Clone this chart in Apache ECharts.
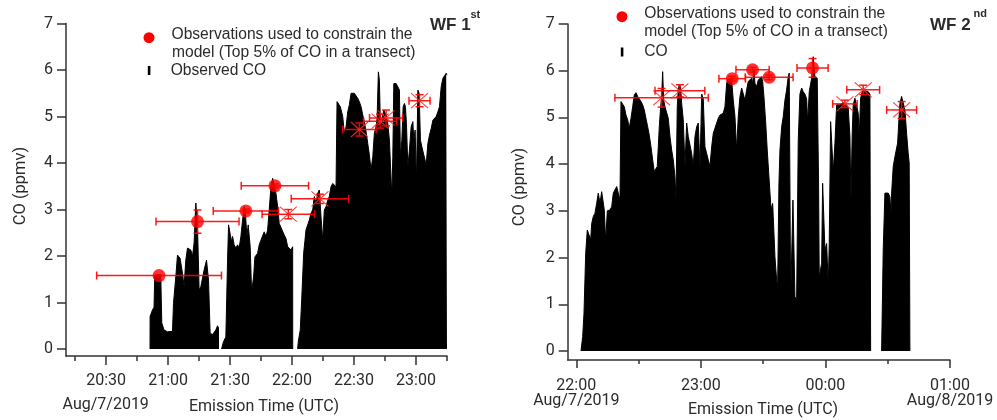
<!DOCTYPE html>
<html>
<head>
<meta charset="utf-8">
<script src="https://cdn.jsdelivr.net/npm/echarts@6/dist/echarts.min.js"></script>
<style>
html,body{margin:0;padding:0;background:#fff;}
#chart{width:997px;height:420px;}
</style>
</head>
<body>
<div id="chart"></div>
<script>
// ---- Time unit: minutes since 2019-08-07 00:00 UTC ----

// WF 1st: observed CO (time, ppmv); null = gap in data
const wf1Time = [
 1251.27,1251.3,1252.44,1253.21,1253.55,1256.46,1256.95,1258.06,1259.71,1262.13,1262.62,1263.73,1264.56,1265.82,1266.98,1267.76,1268.58,1269.4,1271.0,1271.83,1272.6,1273.43,1274.25,1275.03,1275.85,1277.45,1278.61,1279.58,1280.36,1281.52,1282.3,1283.12,1283.95,1284.4,1284.43,
 1285.1,
 1285.88,1286.85,1287.97,1288.79,1289.28,1290.05,1290.73,1291.22,1291.99,1292.82,1293.64,1294.42,1295.24,1296.06,1296.84,1297.32,1298.15,1298.78,1299.75,1300.43,1301.4,1302.03,1303.34,1304.11,1304.93,1305.76,1306.53,1307.36,1308.18,1308.96,1309.78,1310.61,1311.38,1312.21,1313.03,1313.8,1314.63,1316.23,1317.05,1317.88,1318.65,1319.48,1320.3,1320.33,
 1321.5,
 1322.72,1323.02,1323.98,1324.66,1325.63,1326.26,1326.75,1327.57,1328.35,1329.17,1330.0,1330.77,1331.6,1332.42,1333.19,1334.02,1334.84,1335.62,1336.44,1337.27,1338.04,1338.87,1339.69,1340.47,1341.29,1341.78,1342.4,1343.37,1344.54,1345.31,1346.14,1346.96,1347.74,1348.56,1349.38,1350.16,1350.99,1351.81,1352.58,1353.41,1354.23,1355.01,1355.83,1356.65,1357.43,1358.25,1359.08,1359.85,1360.68,1361.16,1361.79,1362.28,1362.76,1363.44,1364.41,1365.53,1366.35,1367.13,1368.29,1368.77,1369.26,1370.37,1371.2,1371.97,1372.46,1373.14,1373.77,1374.4,1374.88,1375.37,1376.05,1376.82,1377.65,1378.47,1378.95,1379.58,1380.21,1380.89,1381.52,1382.15,1382.83,1383.8,1384.92,1385.74,1386.52,1387.34,1388.17,1388.94,1389.76,1390.59,1391.36,1392.19,1393.01,1393.79,1394.61,1395.0
];
const wf1CO = [
 0,0.7,0.84,0.9,1.59,1.6,0.56,0.41,0.37,0.38,0.98,1.55,2.02,1.95,1.63,1.34,1.91,2.17,2.13,2.0,2.28,3.14,2.63,1.27,1.34,1.7,1.91,1.48,0.34,0.31,0.28,0.41,0.5,0.45,0,
 null,
 0,0.16,0.26,1.91,2.67,2.63,2.31,2.42,2.24,2.17,2.24,2.17,2.42,2.77,3.06,3.0,2.42,2.67,2.2,1.23,1.55,1.98,2.06,2.24,2.34,2.38,2.52,2.42,2.56,2.99,3.49,3.67,3.63,3.35,3.06,2.7,2.67,2.45,2.38,2.2,2.24,2.13,2.2,0,
 null,
 0,0.16,0.41,1.05,2.06,2.34,2.56,2.52,2.77,2.92,2.99,3.28,3.13,3.35,3.42,2.85,2.34,2.99,3.06,3.2,3.28,3.49,3.56,3.56,3.49,5.32,5.36,5.21,5.0,4.64,4.78,5.1,5.25,5.5,5.53,5.5,5.46,5.39,5.32,5.21,5.03,4.89,4.67,4.42,4.17,3.85,4.14,4.64,4.78,4.96,5.96,5.78,4.85,4.92,5.14,5.03,4.85,4.49,3.28,4.14,5.71,5.71,5.64,5.57,4.14,4.49,5.21,5.28,5.21,4.85,3.92,4.28,4.78,4.89,4.49,4.71,3.56,5.57,5.5,4.49,4.35,4.17,3.96,4.42,4.6,4.74,4.92,4.96,5.0,5.1,5.21,5.64,5.82,5.85,5.93,5.89
];

// WF 1st: observations used to constrain the model (circles) and others (crosses)
const wf1DotTime = [1255.64, 1274.25, 1297.66, 1311.7];
const wf1DotCO = [1.58, 2.74, 2.97, 3.51];
const wf1DotTimeErr = [30.2, 20.1, 15.8, 16.3];
const wf1DotCOErr = [0, 0.25, 0.04, 0.04];
const wf1CrossTime = [1318.2, 1333.5, 1352.6, 1362.6, 1365.5, 1381.7];
const wf1CrossCO = [2.90, 3.23, 4.72, 4.90, 4.97, 5.34];
const wf1CrossTimeErr = [12.7, 13.9, 8.1, 8.0, 8.0, 5.1];
const wf1CrossCOErr = [0.1, 0.1, 0.14, 0.15, 0.17, 0.13];

// WF 2nd: observed CO
const wf2Time = [
 1322.26,1323.08,1323.71,1324.53,1325.3,1326.12,1326.93,1327.42,1328.19,1329.0,1329.82,1330.59,1331.41,1332.23,1333.0,1333.48,1334.16,1334.93,1336.23,1337.05,1337.82,1338.64,1339.45,1340.22,1341.04,1341.52,1342.34,1343.11,1343.93,1344.75,1345.52,1346.34,1347.16,1347.93,1348.75,1349.57,1350.34,1351.16,1351.97,1352.74,1353.56,1354.38,1355.15,1355.97,1356.79,1357.56,1358.38,1359.0,1359.49,1359.97,1360.64,1361.12,1361.6,1362.09,1362.71,1363.53,1364.3,1365.12,1365.94,1366.71,1367.53,1368.01,1368.63,1369.12,1369.6,1370.27,1370.75,1371.52,1372.34,1373.16,1373.93,1374.75,1375.57,1376.34,1377.16,1377.98,1378.75,1379.57,1380.39,1381.15,1381.97,1382.79,1383.56,1384.38,1385.2,1385.97,1386.79,1387.61,1388.38,1389.2,1390.79,1391.6,1392.42,1393.19,1394.01,1394.83,1395.6,1396.42,1397.24,1398.01,1398.83,1399.65,1400.42,1401.24,1402.05,1402.82,1403.64,1404.46,1404.94,1405.57,1406.05,1406.87,1407.64,1408.46,1409.28,1409.76,1410.38,1411.2,1411.97,1412.79,1413.61,1414.09,1414.57,1414.86,1415.68,1416.5,1416.98,1417.61,1418.09,1418.91,1419.68,1420.5,1421.31,1422.08,1422.57,1423.24,1423.87,1424.35,1424.83,1425.31,1426.13,1426.9,1427.72,1428.54,1429.31,1430.13,1430.95,1431.43,1432.2,1433.35,1434.12,1434.94,1436.05,1436.72,1437.01,1438.17,1438.65,1439.28,1439.76,1440.58,1441.35,1441.83,1442.5,1443.28,1443.76,1444.58,1445.39,1446.16,1446.98,1448.57,1450.17,1450.98,1451.8,1452.28,1452.9,1453.38,1454.2,1455.02,1455.79,1456.27,1456.95,1457.72,1459.02,1460.61,1461.43,1461.77,
 1464.0,
 1467.06,1467.83,1468.65,1469.47,1470.24,1471.06,1471.54,1471.88,1472.65,1473.47,1474.29,1474.77,1475.39,1475.87,1476.69,1477.46,1478.28,1479.1,1479.87,1480.35,1480.69
];
const wf2CO = [
 0,0.31,0.81,2.09,2.59,2.59,2.38,2.73,2.88,2.95,3.16,3.38,3.16,3.41,3.41,3.02,2.34,3.0,3.02,3.09,3.38,3.41,3.52,3.55,3.23,5.34,5.37,5.23,5.05,4.95,4.77,4.98,5.23,5.48,5.53,5.45,5.41,5.34,5.27,5.16,4.98,4.8,4.62,4.37,4.09,3.84,3.84,3.95,4.37,4.8,5.23,5.45,5.98,5.37,5.23,5.2,4.98,4.59,4.3,4.09,3.73,3.23,5.23,5.59,5.7,5.63,5.3,4.95,3.95,4.88,4.59,4.59,4.23,3.95,4.59,4.8,4.88,3.9,5.5,5.4,4.37,4.23,4.09,3.95,4.37,4.66,4.77,4.88,4.98,5.05,5.09,5.23,5.73,5.84,5.84,5.8,5.37,5.02,4.3,5.02,5.45,5.63,5.63,5.37,5.59,5.77,5.77,5.84,5.73,6.02,5.73,5.66,5.8,5.84,5.87,5.77,5.45,4.91,4.3,3.73,3.16,3.02,3.16,2.88,2.02,1.52,1.38,3.59,4.3,4.8,5.02,5.37,5.59,5.87,5.95,1.09,1.09,3.23,3.23,1.16,1.1,4.5,5.5,5.63,5.55,5.5,5.4,4.9,5.55,5.84,6.3,5.87,5.84,3.5,1.59,1.88,3.59,3.62,2.16,2.3,1.41,2.3,4.91,4.91,3.84,4.45,5.27,5.3,5.27,5.32,5.27,5.2,4.59,3.23,4.66,5.27,5.41,5.38,5.09,4.59,5.41,5.55,5.57,5.55,5.5,0,
 null,
 0,2.16,3.38,3.41,3.38,3.3,2.95,3.38,3.95,4.16,4.16,4.45,4.95,5.3,5.45,5.43,5.16,4.66,4.23,4.02,0
];

const wf2DotTime = [1395.1, 1404.9, 1412.9, 1433.8];
const wf2DotCO = [5.83, 6.02, 5.86, 6.06];
const wf2DotTimeErr = [6.4, 8.0, 11.5, 7.5];
const wf2DotCOErr = [0.05, 0.05, 0.05, 0.2];
const wf2CrossTime = [1361.1, 1369.9, 1449.4, 1458.2, 1476.7];
const wf2CrossCO = [5.42, 5.57, 5.29, 5.59, 5.16];
const wf2CrossTimeErr = [22.5, 12.0, 5.9, 7.9, 7.2];
const wf2CrossCOErr = [0.2, 0.13, 0.08, 0.1, 0.18];

// Axis ticks / labels
const yTickValues = [0, 1, 2, 3, 4, 5, 6, 7];
const wf1XMajorTicks = [1230, 1260, 1290, 1320, 1350, 1380];
const wf1XMinorTicks = [1215, 1245, 1275, 1305, 1335, 1365, 1395];
const wf1XLabels = ['20:30', '21:00', '21:30', '22:00', '22:30', '23:00'];
const wf1DateLabel = 'Aug/7/2019';
const wf2XMajorTicks = [1320, 1380, 1440, 1500];
const wf2XMinorTicks = [1350, 1410, 1470];
const wf2XLabels = ['22:00\nAug/7/2019', '23:00', '00:00', '01:00\nAug/8/2019'];

const pair = (xs, ys) => xs.map((x, i) => [x, ys[i]]);
const errData = (t, v, te, ve, kind) => t.map((x, i) => [x, v[i], te[i], ve[i], kind]);

const chart = echarts.init(document.getElementById('chart'), null, {renderer: 'canvas'});

const AX = '#333333';
const TXT = '#2b2b2b';
const RED = '#ff0000';

function errRender(params, api) {
  const t = api.value(0), v = api.value(1), te = api.value(2), ve = api.value(3), kind = api.value(4);
  const c = api.coord([t, v]);
  const l = api.coord([t - te, v]);
  const r = api.coord([t + te, v]);
  const cap = 4;
  const st = {stroke: 'rgba(255,0,0,0.9)', lineWidth: 1.5, fill: null};
  const ch = [
    {type: 'line', shape: {x1: l[0], y1: l[1], x2: r[0], y2: r[1]}, style: st},
    {type: 'line', shape: {x1: l[0], y1: l[1] - cap, x2: l[0], y2: l[1] + cap}, style: st},
    {type: 'line', shape: {x1: r[0], y1: r[1] - cap, x2: r[0], y2: r[1] + cap}, style: st}
  ];
  if (ve > 0) {
    const tp = api.coord([t, v + ve]);
    const bt = api.coord([t, v - ve]);
    ch.push({type: 'line', shape: {x1: tp[0], y1: tp[1], x2: bt[0], y2: bt[1]}, style: st});
    ch.push({type: 'line', shape: {x1: tp[0] - cap, y1: tp[1], x2: tp[0] + cap, y2: tp[1]}, style: st});
    ch.push({type: 'line', shape: {x1: bt[0] - cap, y1: bt[1], x2: bt[0] + cap, y2: bt[1]}, style: st});
  }
  if (kind === 1) {
    const s = 8.5, h = 7.5;
    const xs = {stroke: 'rgba(255,40,40,0.9)', lineWidth: 1.1, fill: null};
    ch.push({type: 'line', shape: {x1: c[0] - s, y1: c[1] - h, x2: c[0] + s, y2: c[1] + h}, style: xs});
    ch.push({type: 'line', shape: {x1: c[0] - s, y1: c[1] + h, x2: c[0] + s, y2: c[1] - h}, style: xs});
  }
  return {type: 'group', children: ch};
}

function xAxisCfg(idx, min, max, tickVals, labels, tickLen, margin, lh) {
  return {
    type: 'value', gridIndex: idx, min: min, max: max, position: 'bottom',
    axisLine: {show: true, onZero: false, lineStyle: {color: AX, width: 1.5}},
    axisTick: {show: true, customValues: tickVals, length: tickLen, lineStyle: {color: AX, width: 1.5}},
    axisLabel: {
      show: true, customValues: tickVals, margin: margin, hideOverlap: false,
      formatter: function (v) { const i = tickVals.indexOf(v); return i >= 0 ? labels[i] : ''; },
      fontFamily: 'Roboto', fontSize: 16, color: TXT, lineHeight: lh
    },
    splitLine: {show: false}
  };
}
function xMinorCfg(idx, min, max, tickVals, tickLen) {
  return {
    type: 'value', gridIndex: idx, min: min, max: max, position: 'bottom', offset: 0,
    axisLine: {show: false, onZero: false},
    axisTick: {show: true, customValues: tickVals, length: tickLen, lineStyle: {color: AX, width: 1.5}},
    axisLabel: {show: false},
    splitLine: {show: false}
  };
}
function yAxisCfg(idx, min) {
  return {
    type: 'value', gridIndex: idx, min: min, max: 7,
    axisLine: {show: true, onZero: false, lineStyle: {color: AX, width: 1.5}},
    axisTick: {show: true, customValues: yTickValues, length: 9, lineStyle: {color: AX, width: 1.5}},
    axisLabel: {show: true, customValues: yTickValues, margin: 13, fontFamily: 'Roboto', fontSize: 16, color: TXT},
    splitLine: {show: false}
  };
}

const legFont = '15.6px "Liberation Sans", Arial, sans-serif';
function txt(x, y, s, font, align, rot) {
  const o = {type: 'text', x: x, y: y, style: {text: s, font: font, fill: TXT, align: align || 'left', verticalAlign: 'middle'}, z: 100};
  if (rot) o.rotation = rot;
  return o;
}

const option = {
  animation: false,
  backgroundColor: '#fff',
  grid: [
    {left: 66, top: 23.5, width: 381, height: 332.5, containLabel: false},
    {left: 567.7, top: 24, width: 382.3, height: 336, containLabel: false}
  ],
  xAxis: [
    xAxisCfg(0, 1210.6, 1395, wf1XMajorTicks, wf1XLabels, 9, 17, 16),
    xAxisCfg(1, 1315.86, 1500, wf2XMajorTicks, wf2XLabels, 8, 19, 14.5),
    xMinorCfg(0, 1210.6, 1395, wf1XMinorTicks, 5),
    xMinorCfg(1, 1315.86, 1500, wf2XMinorTicks, 4)
  ],
  yAxis: [yAxisCfg(0, -0.15), yAxisCfg(1, -0.193)],
  series: [
    {type: 'line', xAxisIndex: 0, yAxisIndex: 0, data: pair(wf1Time, wf1CO), showSymbol: false, symbol: 'none',
     connectNulls: false, lineStyle: {color: '#000', width: 1}, areaStyle: {color: '#000', opacity: 1, origin: 0}, z: 2},
    {type: 'line', xAxisIndex: 1, yAxisIndex: 1, data: pair(wf2Time, wf2CO), showSymbol: false, symbol: 'none',
     connectNulls: false, lineStyle: {color: '#000', width: 1}, areaStyle: {color: '#000', opacity: 1, origin: 0}, z: 2},
    {type: 'custom', xAxisIndex: 0, yAxisIndex: 0, renderItem: errRender, data: errData(wf1CrossTime, wf1CrossCO, wf1CrossTimeErr, wf1CrossCOErr, 1), z: 3, clip: false},
    {type: 'custom', xAxisIndex: 0, yAxisIndex: 0, renderItem: errRender, data: errData(wf1DotTime, wf1DotCO, wf1DotTimeErr, wf1DotCOErr, 0), z: 3, clip: false},
    {type: 'custom', xAxisIndex: 1, yAxisIndex: 1, renderItem: errRender, data: errData(wf2CrossTime, wf2CrossCO, wf2CrossTimeErr, wf2CrossCOErr, 1), z: 3, clip: false},
    {type: 'custom', xAxisIndex: 1, yAxisIndex: 1, renderItem: errRender, data: errData(wf2DotTime, wf2DotCO, wf2DotTimeErr, wf2DotCOErr, 0), z: 3, clip: false},
    {type: 'scatter', xAxisIndex: 0, yAxisIndex: 0, data: pair(wf1DotTime, wf1DotCO), symbol: 'circle', symbolSize: 13, itemStyle: {color: RED}, z: 4},
    {type: 'scatter', xAxisIndex: 1, yAxisIndex: 1, data: pair(wf2DotTime, wf2DotCO), symbol: 'circle', symbolSize: 13, itemStyle: {color: RED}, z: 4}
  ],
  graphic: [
    // Left panel legend
    {type: 'circle', shape: {cx: 149, cy: 37.7, r: 5.5}, style: {fill: RED}, z: 100},
    {type: 'rect', shape: {x: 147.8, y: 66, width: 2.6, height: 9}, style: {fill: '#000'}, z: 100},
    txt(171.5, 35, 'Observations used to constrain the', legFont),
    txt(172, 53, 'model (Top 5% of CO in a transect)', legFont),
    txt(170.7, 70.5, 'Observed CO', legFont),
    // Right panel legend
    {type: 'circle', shape: {cx: 622, cy: 16.7, r: 5.5}, style: {fill: RED}, z: 100},
    {type: 'rect', shape: {x: 620.8, y: 47.5, width: 2.6, height: 9}, style: {fill: '#000'}, z: 100},
    txt(644.3, 13.5, 'Observations used to constrain the', legFont),
    txt(644.3, 31.5, 'model (Top 5% of CO in a transect)', legFont),
    txt(644.3, 51.5, 'CO', legFont),
    // Panel titles
    txt(430, 25, 'WF 1', 'bold 17px "Liberation Sans", Arial, sans-serif'),
    txt(470.5, 15, 'st', 'bold 11px "Liberation Sans", Arial, sans-serif'),
    txt(930, 25, 'WF 2', 'bold 17px "Liberation Sans", Arial, sans-serif'),
    txt(973.5, 14, 'nd', 'bold 11px "Liberation Sans", Arial, sans-serif'),
    // Date under the first left tick label
    txt(105.7, 404.5, wf1DateLabel, '16px Roboto', 'center'),
    // Axis titles
    txt(264, 407, 'Emission Time (UTC)', '16px Roboto', 'center'),
    txt(763, 410, 'Emission Time (UTC)', '16px Roboto', 'center'),
    txt(21, 186, 'CO (ppmv)', '16.5px Roboto', 'center', Math.PI / 2),
    txt(520, 187, 'CO (ppmv)', '16.5px Roboto', 'center', Math.PI / 2)
  ]
};
chart.setOption(option);
</script>
</body>
</html>
